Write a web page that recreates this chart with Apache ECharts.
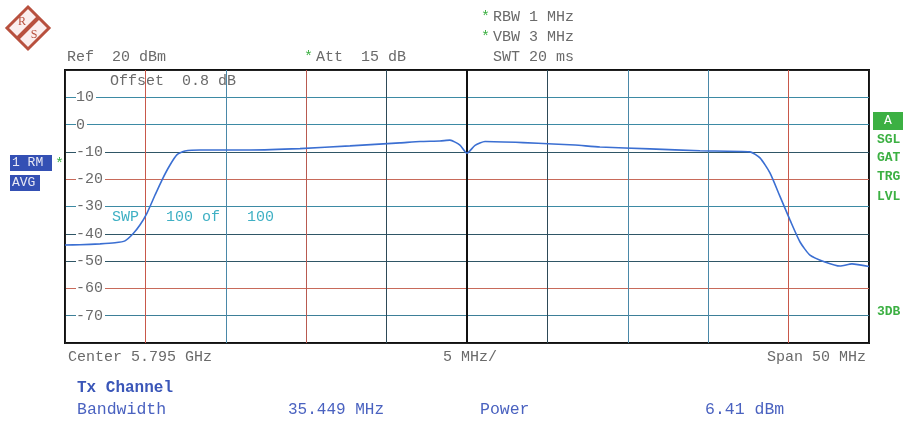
<!DOCTYPE html>
<html>
<head>
<meta charset="utf-8">
<script src="https://cdn.jsdelivr.net/npm/echarts@6/dist/echarts.min.js"></script>
<style>html,body{margin:0;padding:0;background:#fff;}#c{width:905px;height:421px;}</style>
</head>
<body>
<div id="c"></div>
<script>
// Frequency offset from center (MHz) and trace level (dBm)
var freqMHz = [-25, -24.07, -22.82, -21.89, -21.27, -20.77, -20.34, -19.90, -19.40, -18.97, -18.47, -18.03, -17.54, -16.60, -13.50, -10.39, -7.28, -4.17, -2.92, -1.68, -1.06, -0.44, 0, 0.5, 1.12, 3.48, 5.35, 6.72, 8.27, 11.38, 14.49, 17.60, 18.22, 18.84, 19.47, 20.09, 20.71, 21.33, 22.26, 23.20, 23.94, 25];
var levelDbm = [-44.1, -44.0, -43.7, -43.3, -42.6, -40.0, -36.8, -32.4, -25.8, -20.3, -14.8, -11.0, -9.7, -9.3, -9.3, -8.8, -7.8, -6.7, -6.2, -6.0, -5.7, -7.5, -10.5, -7.6, -6.2, -6.6, -7.1, -7.5, -8.2, -8.9, -9.6, -10.0, -12.2, -17.7, -26.4, -35.0, -43.0, -47.8, -50.3, -51.8, -51.0, -52.0];
var yTicks = [-80, -70, -60, -50, -40, -30, -20, -10, 0, 10, 20];
var xTicks = [-25, -20, -15, -10, -5, 0, 5, 10, 15, 20, 25];

var hLineColors = ['#222', '#3d7f98', '#c86a5a', '#2f5666', '#2f5666', '#3d8aa4', '#c86a5a', '#2f5666', '#3d8aa4', '#3d8aa4', '#222'];
var vLineColors = ['#222', '#c8584a', '#4a88a8', '#b85a50', '#2e4a58', '#111', '#2e4a58', '#4a88a8', '#4a88a8', '#c8584a', '#222'];

var mono = '"Liberation Mono", "DejaVu Sans Mono", monospace';
var gray = '#6a6a6a';
var green = '#3cb043';
var blue = '#4a62c0';

function txt(x, y, s, color, opts) {
  opts = opts || {};
  return {
    type: 'text', x: x, y: y, z: 100,
    style: {
      text: s, fill: color, font: (opts.weight || 'normal') + ' ' + (opts.size || 15) + 'px ' + (opts.family || mono),
      verticalAlign: 'middle', align: opts.align || 'left'
    }
  };
}

var chart = echarts.init(document.getElementById('c'));
var option = {
  animation: false,
  backgroundColor: '#fff',
  grid: { left: 65, right: 36, top: 70, bottom: 78, show: true, borderColor: '#111', borderWidth: 2, backgroundColor: 'transparent' },
  xAxis: {
    type: 'value', min: -25, max: 25, interval: 5,
    axisLine: { show: false }, axisTick: { show: false }, axisLabel: { show: false },
    splitLine: { show: true, lineStyle: { color: vLineColors, width: 1 } }
  },
  yAxis: {
    type: 'value', min: -80, max: 20, interval: 10,
    axisLine: { show: false }, axisTick: { show: false },
    axisLabel: {
      inside: true, margin: 11, color: gray, fontFamily: mono, fontSize: 15,
      backgroundColor: '#fff', padding: [0, 2, 0, 0],
      formatter: function (v) { return (v === yTicks[0] || v === yTicks[yTicks.length - 1]) ? '' : String(v); }
    },
    splitLine: { show: true, lineStyle: { color: hLineColors, width: 1 } }
  },
  series: [{
    type: 'line',
    data: freqMHz.map(function (f, i) { return [f, levelDbm[i]]; }),
    showSymbol: false, smooth: 0.2,
    lineStyle: { color: '#3b6fd2', width: 1.6 },
    z: 5,
    markLine: {
      silent: true, symbol: 'none', label: { show: false },
      lineStyle: { color: '#111', width: 2, type: 'solid' },
      data: [{ xAxis: 0 }]
    }
  }],
  graphic: [
    // R&S logo
    { type: 'polygon', shape: { points: [[28, 7], [49, 28], [28, 49], [7, 28]] }, style: { fill: '#fbeeee', stroke: '#b8503e', lineWidth: 3 }, z: 100 },
    { type: 'line', shape: { x1: 17, y1: 39, x2: 39, y2: 17 }, style: { stroke: '#b8503e', lineWidth: 4 }, z: 101 },
    txt(22, 22, 'R', '#b8503e', { size: 12, family: '"Liberation Serif", serif', align: 'center' }),
    txt(34, 35, 'S', '#b8503e', { size: 12, family: '"Liberation Serif", serif', align: 'center' }),
    // header
    txt(67, 57, 'Ref  20 dBm', gray),
    txt(304, 57, '*', green),
    txt(316, 57, 'Att  15 dB', gray),
    txt(481, 17, '*', green),
    txt(493, 17, 'RBW 1 MHz', gray),
    txt(481, 37, '*', green),
    txt(493, 37, 'VBW 3 MHz', gray),
    txt(493, 57, 'SWT 20 ms', gray),
    // inside
    txt(110, 81, 'Offset  0.8 dB', gray),
    txt(112, 217, 'SWP   100 of   100', '#3fb0c4'),
    // left boxes
    { type: 'rect', shape: { x: 10, y: 155, width: 42, height: 16 }, style: { fill: '#3450b4' }, z: 100 },
    txt(12, 163, '1 RM', '#e8e8f4', { size: 13 }),
    txt(55, 164, '*', green),
    { type: 'rect', shape: { x: 10, y: 175, width: 30, height: 16 }, style: { fill: '#3450b4' }, z: 100 },
    txt(12, 183, 'AVG', '#e8e8f4', { size: 13 }),
    // right labels
    { type: 'rect', shape: { x: 873, y: 112, width: 30, height: 18 }, style: { fill: '#3cb043' }, z: 100 },
    txt(888, 121, 'A', '#ffffff', { size: 13, align: 'center' }),
    txt(877, 140, 'SGL', green, { size: 13, weight: 'bold' }),
    txt(877, 158, 'GAT', green, { size: 13, weight: 'bold' }),
    txt(877, 177, 'TRG', green, { size: 13, weight: 'bold' }),
    txt(877, 197, 'LVL', green, { size: 13, weight: 'bold' }),
    txt(877, 312, '3DB', green, { size: 13, weight: 'bold' }),
    // bottom
    txt(68, 357, 'Center 5.795 GHz', gray),
    txt(470, 357, '5 MHz/', gray, { align: 'center' }),
    txt(866, 357, 'Span 50 MHz', gray, { align: 'right' }),
    txt(77, 388, 'Tx Channel', '#3a56b8', { weight: 'bold', size: 16 }),
    txt(77, 410, 'Bandwidth', blue, { size: 16.5 }),
    txt(288, 410, '35.449 MHz', blue, { size: 16 }),
    txt(480, 410, 'Power', blue, { size: 16.5 }),
    txt(705, 410, '6.41 dBm', blue, { size: 16.5 })
  ]
};
chart.setOption(option);
</script>
</body>
</html>
